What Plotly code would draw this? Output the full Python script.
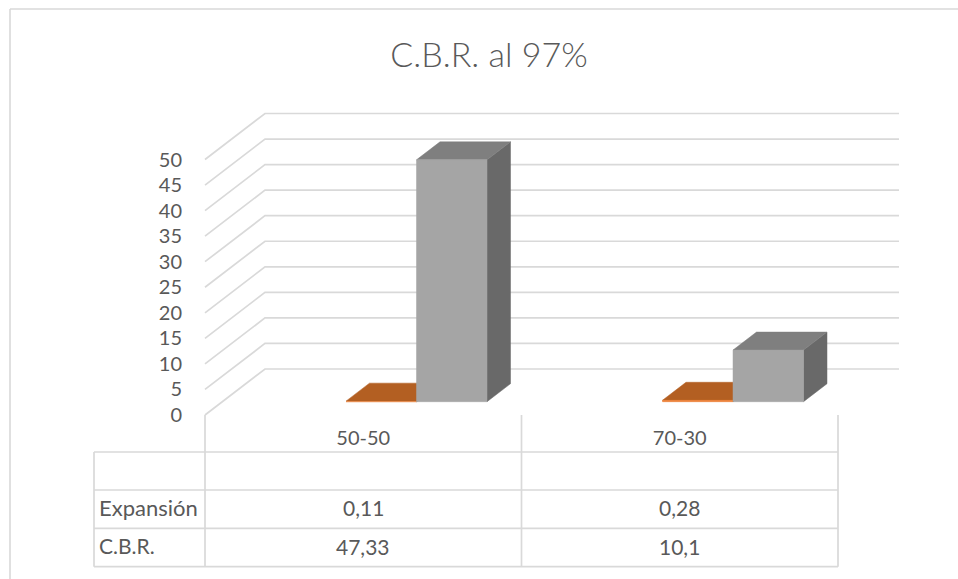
import plotly.graph_objects as go

# Chart data
categories = ["50-50", "70-30"]
expansion = [0.11, 0.28]
cbr = [47.33, 10.1]
expansion_labels = ["0,11", "0,28"]
cbr_labels = ["47,33", "10,1"]
y_ticks = list(range(0, 55, 5))

W, H = 958, 579
ORIGIN_X, ORIGIN_Y = 205, 415
GRID_RIGHT = 899
PX_PER_CAT = 316.5
PX_PER_VAL = 5.11
GRID = "#D9D9D9"
TEXT = "#595959"
FONT = "Lato"

def ux(px):
    return px / PX_PER_CAT

def uy(px):
    return px / PX_PER_VAL

# Oblique projection of the chart's depth, in axis units
WALL_DX, WALL_DY = ux(60), uy(46)
BOX_DX, BOX_DY = ux(23.5), uy(18)
FLOOR_Y = uy(13.3)
BAR_W = ux(70.5)
GAP_L = ux(141)

fig = go.Figure()

def poly(xs, ys, color):
    fig.add_trace(go.Scatter(x=xs, y=ys, mode="lines", fill="toself", fillcolor=color,
                             line=dict(color=color, width=0.5), hoverinfo="skip",
                             showlegend=False))

def rule(xs, ys, width=1.7):
    fig.add_trace(go.Scatter(x=xs, y=ys, mode="lines", line=dict(color=GRID, width=width),
                             hoverinfo="skip", showlegend=False))

def box(x0, value, front, top, side):
    x1 = x0 + BAR_W
    y0 = FLOOR_Y
    y1 = FLOOR_Y + value
    poly([x1, x1 + BOX_DX, x1 + BOX_DX, x1, x1],
         [y0, y0 + BOX_DY, y1 + BOX_DY, y1, y0], side)
    poly([x0, x0 + BOX_DX, x1 + BOX_DX, x1, x0],
         [y1, y1 + BOX_DY, y1 + BOX_DY, y1, y1], top)
    poly([x0, x1, x1, x0, x0], [y0, y0, y1, y1, y0], front)

# Wall gridlines: front-left edge running back, then across the rear wall
for v in y_ticks:
    rule([0, WALL_DX, ux(GRID_RIGHT - ORIGIN_X)], [v, v + WALL_DY, v + WALL_DY])

# Flat orange series sits beside the grey series in each category
for i in range(len(categories)):
    left = i + GAP_L
    box(left, expansion[i], "#ED7D31", "#B35F22", "#8E4B1B")
    box(left + BAR_W, cbr[i], "#A5A5A5", "#7F7F7F", "#696969")

# Data table below the axis
table_left = ux(94 - ORIGIN_X)
row_y = [uy(ORIGIN_Y - p) for p in (452, 490, 528.3, 566.7)]
for y in row_y:
    rule([table_left, 2], [y, y])
for x, top in [(table_left, row_y[0]), (0, 0), (1, 0), (2, 0)]:
    rule([x, x], [top, row_y[-1]])

def cell(x, px_y, text, anchor="center", size=20):
    fig.add_annotation(x=x, y=uy(ORIGIN_Y - px_y), text=text, showarrow=False, xanchor=anchor,
                       yanchor="middle", font=dict(family=FONT, size=size, color=TEXT))

for i in range(len(categories)):
    cell(i + 0.5, 507.5, expansion_labels[i], size=21)
    cell(i + 0.5, 546.5, cbr_labels[i], size=21)
cell(ux(97 - ORIGIN_X), 507.5, "Expansión", "left", 22)
cell(ux(97 - ORIGIN_X), 545.5, "C.B.R.", "left", 21)

fig.update_layout(
    width=W, height=H, autosize=False,
    margin=dict(l=0, r=0, t=0, b=0),
    paper_bgcolor="white", plot_bgcolor="white",
    font=dict(family=FONT, color=TEXT),
    title=dict(text="C.B.R. al 97%", x=489 / W, xanchor="center", y=1 - 55 / H, yanchor="middle",
               font=dict(family=FONT, size=34, color=TEXT, weight=300)),
    xaxis=dict(range=[ux(-ORIGIN_X), ux(W - ORIGIN_X)], tickvals=[0.5, 1.5], ticktext=categories,
               anchor="free", position=(H - ORIGIN_Y) / H,
               showgrid=False, zeroline=False, showline=False, ticks="",
               tickfont=dict(family=FONT, size=20, color=TEXT), ticklabelstandoff=9),
    yaxis=dict(range=[uy(ORIGIN_Y - H), uy(ORIGIN_Y)], tickvals=y_ticks,
               anchor="free", position=ORIGIN_X / W,
               showgrid=False, zeroline=False, showline=False, ticks="",
               tickfont=dict(family=FONT, size=20, color=TEXT), ticklabelstandoff=23),
    # Chart frame: only the top and left edges are in view
    shapes=[dict(type="line", xref="paper", yref="paper", layer="below",
                 x0=x0 / W, x1=x1 / W, y0=1 - y0 / H, y1=1 - y1 / H,
                 line=dict(color=GRID, width=1.6))
            for x0, y0, x1, y1 in [(10, 9, W, 9), (10, 9, 10, H)]],
)

fig.write_html("out.html", config=dict(displayModeBar=False))
